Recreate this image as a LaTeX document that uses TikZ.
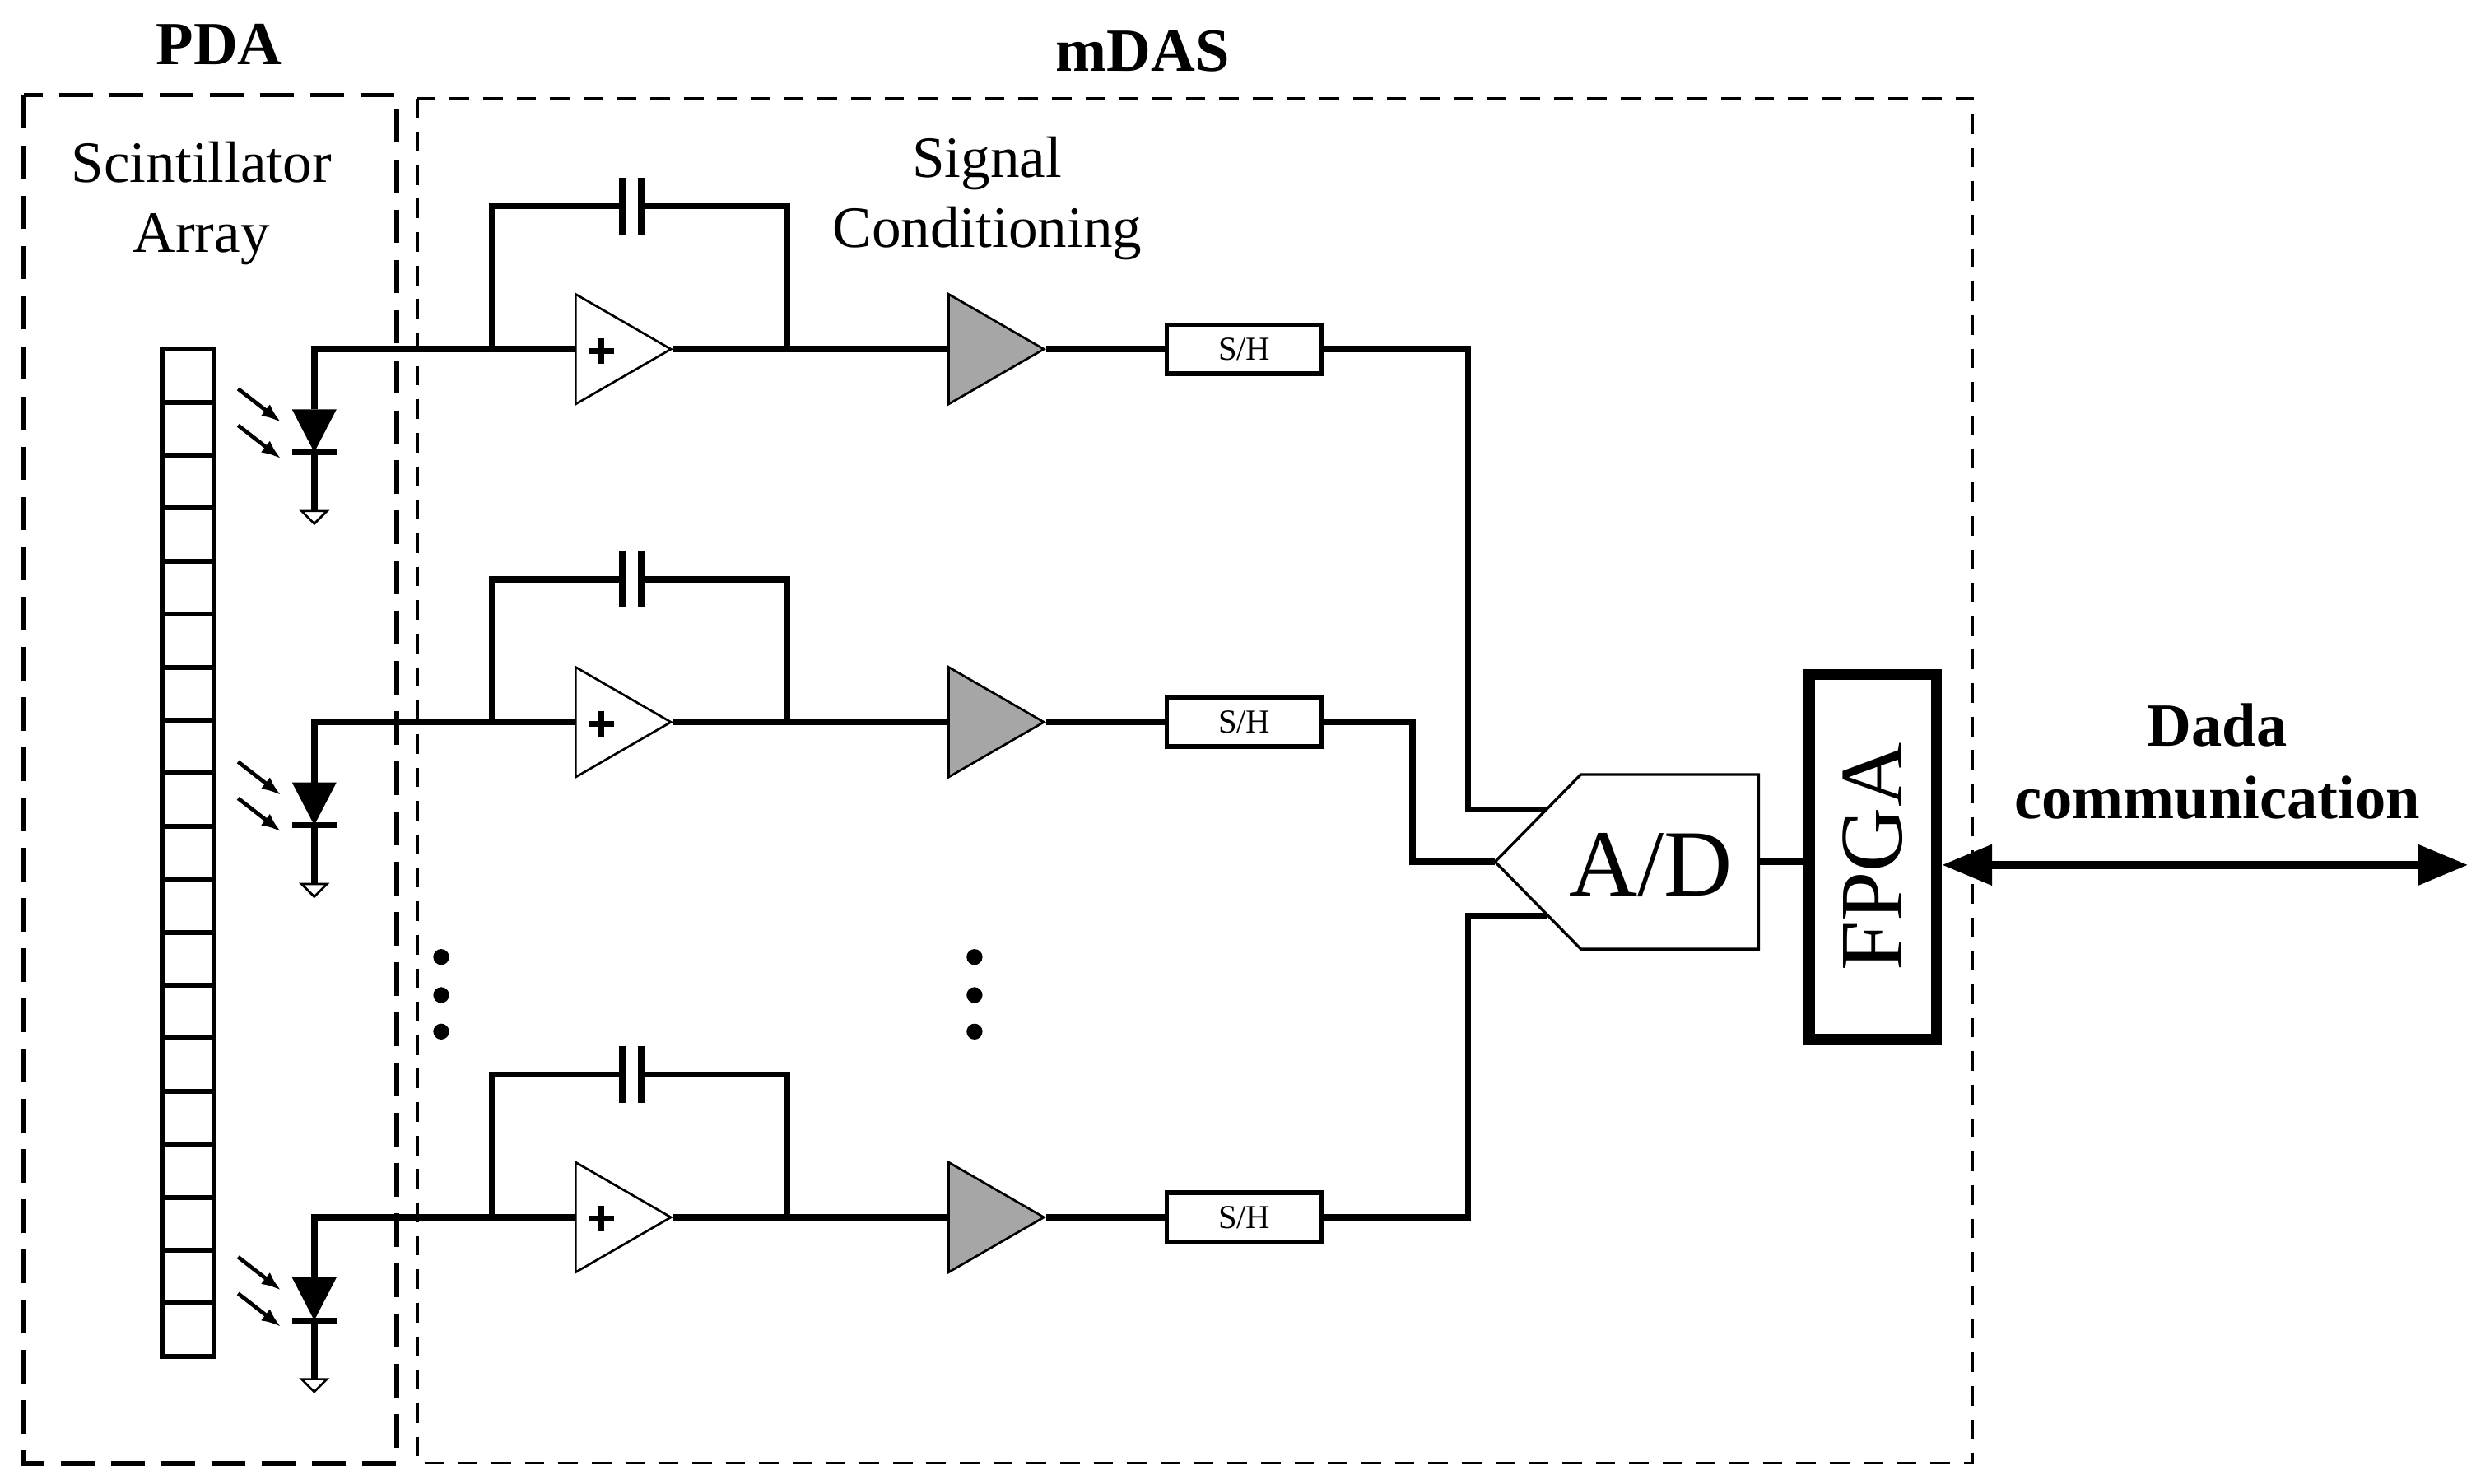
\documentclass[tikz,border=0pt]{standalone}
\usepackage{fontspec}
\setmainfont{Liberation Serif}
\usetikzlibrary{shapes, arrows.meta, positioning, calc}
\tikzstyle{wire} = [line width=2.2pt]
\tikzstyle{opamp} = [draw, isosceles triangle, isosceles triangle apex angle=60, minimum height=1.2cm, inner sep=0pt, fill=white, line width=0.8pt]
\tikzstyle{sh} = [draw, rectangle, line width=1.6pt, minimum width=1.96cm, minimum height=0.62cm, font=\fontsize{12}{14}\selectfont]
\begin{document}
\begin{tikzpicture}[x=0.02cm, y=-0.02cm]
		\useasboundingbox (0,0) rectangle (1560,935);
		% frames
		\draw[line width=1.6pt, dash pattern=on 12pt off 6pt] (15,60) rectangle (250,922);
		\draw[line width=1pt, dash pattern=on 7pt off 5pt] (263,62) rectangle (1243,922);
		\node[font=\fontsize{22}{26}\selectfont\bfseries] (pda) at (138,28) {PDA};
		\node[font=\fontsize{22}{26}\selectfont\bfseries] (mdas) at (720,32) {mDAS};
		\node[font=\fontsize{21}{25}\selectfont, align=center] (scint) at (127,128) {Scintillator\\Array};
		\node[font=\fontsize{21}{25}\selectfont, align=center] (cond) at (622,125) {Signal\\Conditioning};
		% scintillator array
		\foreach \i in {0,...,18}
			\draw[line width=1.8pt] (102,220+\i*33.4) rectangle (135,253.4+\i*33.4);
		% channels
		\foreach \y/\n in {220/a, 455/b, 767/c} {
			% photodiode
			\fill (184,\y+38) -- (212,\y+38) -- (198,\y+65) -- cycle;
			\draw[line width=2pt] (184,\y+65) -- (212,\y+65);
			\draw[wire] (198,\y+38) -- (198,\y) -- (362,\y);
			\draw[wire] (198,\y+65) -- (198,\y+102);
			\draw[line width=0.8pt, fill=white] (190,\y+102) -- (206,\y+102) -- (198,\y+110) -- cycle;
			\draw[line width=1.4pt, -{Latex[length=7pt]}] (150,\y+25) -- (177,\y+46);
			\draw[line width=1.4pt, -{Latex[length=7pt]}] (150,\y+48) -- (177,\y+69);
			% integrator
			\node[opamp, anchor=west] (amp\n) at (362,\y) {};
			\draw[line width=2pt] (371,\y+1) -- (387,\y+1) (379,\y-7) -- (379,\y+9);
			\draw[wire] (310,\y) -- (310,\y-90) -- (392,\y-90);
			\draw[wire] (404,\y-90) -- (496,\y-90) -- (496,\y);
			\draw[wire] (392,\y-108) -- (392,\y-72);
			\draw[wire] (404,\y-108) -- (404,\y-72);
			\node[opamp, fill=gray!70, anchor=west] (gain\n) at (597,\y) {};
			\draw[wire] (amp\n.apex) -- (gain\n.west);
			\node[sh] (sh\n) at (784,\y) {S/H};
			\draw[wire] (gain\n.apex) -- (sh\n.west);
		}
		% A/D and FPGA
		\draw[line width=1pt, fill=white] (942,543) -- (996,488) -- (1108,488) -- (1108,598) -- (996,598) -- cycle;
		\node[font=\fontsize{34}{36}\selectfont] (ad) at (1040,545) {A/D};
		\coordinate (adin) at (942,543);
		\coordinate (adout) at (1108,543);
		\draw[wire] (sha.east) -- (925,220) -- (925,510) -- (975,510);
		\draw[wire] (shb.east) -- (890,455) -- (890,543) -- (adin);
		\draw[wire] (shc.east) -- (925,767) -- (925,577) -- (975,577);
		\node[draw, line width=4pt, minimum width=1.6cm, minimum height=4.6cm] (fpga) at (1180,540) {};
		\node[rotate=90, font=\fontsize{32}{34}\selectfont] at (fpga.center) {FPGA};
		\draw[wire] (adout) -- (fpga.west |- adout);
		\coordinate (ext) at (1555,545);
		\draw[line width=3pt, {Triangle[length=18pt,width=14pt]}-{Triangle[length=18pt,width=14pt]}] (fpga.east |- ext) -- (ext);
		\node[font=\fontsize{22}{26}\selectfont\bfseries, align=center] (comm) at (1397,480) {Dada\\communication};
		% dots
		\foreach \x in {278,614}
			\foreach \y in {603,627,650}
				\fill (\x,\y) circle (5);
	\end{tikzpicture}
\end{document}
